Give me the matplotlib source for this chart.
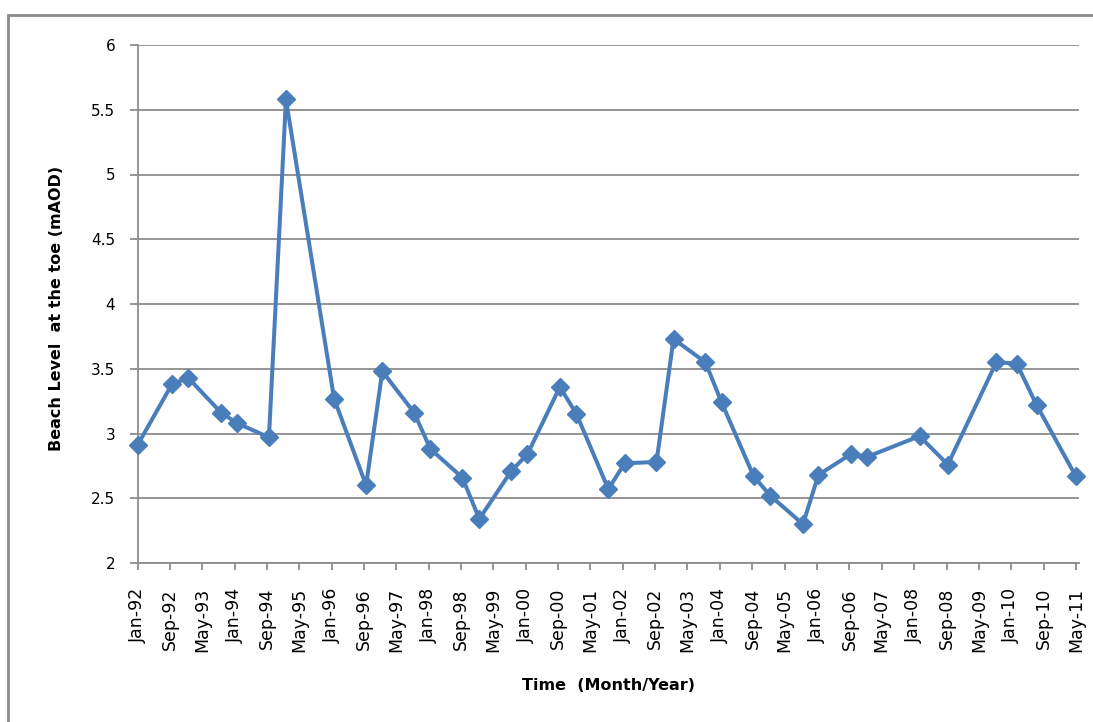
import numpy as np
import pandas as pd
import matplotlib
matplotlib.use("Agg")
import matplotlib.pyplot as plt
import matplotlib.dates as mdates
from matplotlib.patches import Rectangle

# survey dates and beach level at the toe (mAOD)
survey_dates = [
    "1992-01-01", "1992-09-16", "1993-01-16", "1993-09-22", "1994-01-19",
    "1994-09-16", "1995-01-22", "1996-01-19", "1996-09-16", "1997-01-16",
    "1997-09-13", "1998-01-13", "1998-09-10", "1999-01-16", "1999-09-13",
    "2000-01-13", "2000-09-13", "2001-01-16", "2001-09-13", "2002-01-13",
    "2002-09-10", "2003-01-16", "2003-09-13", "2004-01-13", "2004-09-10",
    "2005-01-13", "2005-09-16", "2006-01-10", "2006-09-10", "2007-01-13",
    "2008-02-10", "2008-09-10", "2009-09-10", "2010-02-10", "2010-07-10",
    "2011-05-01",
]
beach_level = [
    2.91, 3.38, 3.43, 3.16, 3.08,
    2.97, 5.58, 3.27, 2.60, 3.48,
    3.16, 2.88, 2.66, 2.34, 2.71,
    2.84, 3.36, 3.15, 2.57, 2.77,
    2.78, 3.73, 3.55, 3.24, 2.67,
    2.52, 2.30, 2.68, 2.84, 2.82,
    2.98, 2.76, 3.55, 3.54, 3.22,
    2.67,
]
y_ticks = [2, 2.5, 3, 3.5, 4, 4.5, 5, 5.5, 6]
y_tick_labels = ["2", "2.5", "3", "3.5", "4", "4.5", "5", "5.5", "6"]

dates = pd.to_datetime(survey_dates)
tick_dates = pd.date_range("1992-01-01", "2011-05-01", freq="8MS")

W, H = 1093, 722
fig = plt.figure(figsize=(W / 100, H / 100), dpi=100)
ax = fig.add_axes([137.5 / W, 1 - 563 / H, (1079 - 137.5) / W, (563 - 45) / H])

grey = "#8c8c8c"
blue = "#4a7ebb"

ax.plot(dates, beach_level, color=blue, lw=2.9, marker="D", ms=9.5,
        mec=blue, mfc=blue, clip_on=False, zorder=3)

ax.set_ylim(2, 6)
ax.set_yticks(y_ticks)
ax.set_yticklabels(y_tick_labels, fontname="DejaVu Sans", fontsize=11)
ax.set_xlim(pd.Timestamp("1992-01-01"), pd.Timestamp("2011-05-25"))
ax.set_xticks(tick_dates)
ax.xaxis.set_major_formatter(mdates.DateFormatter("%b-%y"))
for lbl in ax.get_xticklabels():
    lbl.set_rotation(90)
    lbl.set_fontname("DejaVu Sans")
    lbl.set_fontsize(12.5)

ax.grid(axis="y", color=grey, lw=1.3)
ax.set_axisbelow(True)
for side in ["top", "right"]:
    ax.spines[side].set_visible(False)
for side in ["left", "bottom"]:
    ax.spines[side].set_color(grey)
    ax.spines[side].set_linewidth(1.3)
ax.tick_params(axis="y", length=6, width=1.3, color=grey, pad=10)
ax.tick_params(axis="x", length=5, width=1.3, color=grey, pad=13)

fig.text(57 / W, 1 - 308 / H, "Beach Level  at the toe (mAOD)", rotation=90,
         ha="center", va="center", fontsize=11.5, fontweight="bold",
         fontname="DejaVu Sans")
fig.text(609 / W, 1 - 686 / H, "Time  (Month/Year)", ha="center", va="center",
         fontsize=11.5, fontweight="bold", fontname="DejaVu Sans")

# outer chart border
fig.patches.append(Rectangle((8 / W, -0.05), 1.1, 1 - 15 / H + 0.05,
                             transform=fig.transFigure, fill=False,
                             ec=grey, lw=2))

fig.savefig("out.png", dpi=100)
